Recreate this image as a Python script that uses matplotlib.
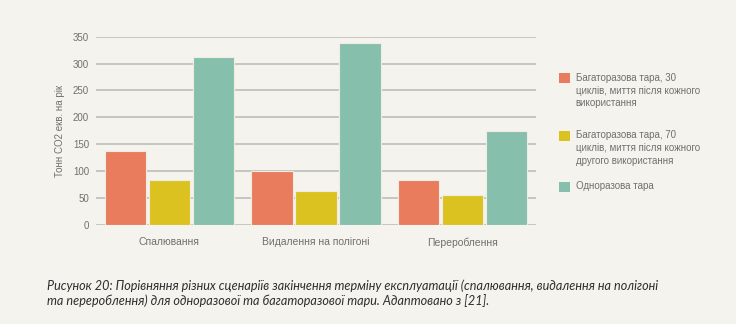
import matplotlib
matplotlib.use("Agg")
import matplotlib.pyplot as plt
import numpy as np
from matplotlib.patches import Rectangle

categories = ["Спалювання", "Видалення на полігоні", "Перероблення"]
series_names = [
    "Багаторазова тара, 30\nциклів, миття після кожного\nвикористання",
    "Багаторазова тара, 70\nциклів, миття після кожного\nдругого використання",
    "Одноразова тара",
]
reuse30 = [138, 100, 83]
reuse70 = [83, 63, 55]
single = [312, 338, 175]
yticks = [0, 50, 100, 150, 200, 250, 300, 350]
ylabel = "Тонн CO2 екв. на рік"
caption_lines = ["Рисунок 20: Порівняння різних сценаріїв закінчення терміну експлуатації (спалювання, видалення на полігоні",
                 "та перероблення) для одноразової та багаторазової тари. Адаптовано з [21]."]

colors = ["#e87c5c", "#dcc220", "#86c0ad"]
bg = "#f4f3ed"
tick_color = "#707070"

plt.rcParams['font.family'] = ['Liberation Sans', 'DejaVu Sans']

fig = plt.figure(figsize=(7.36, 3.24), dpi=100, facecolor=bg)
ax = fig.add_axes([96/736, 1-224.7/324, 440/736, 188/324])
ax.set_facecolor(bg)

x = np.arange(len(categories))
w = 0.28
step = 0.30
for i, vals in enumerate([reuse30, reuse70, single]):
    ax.bar(x + (i-1)*step, vals, width=w, color=colors[i], edgecolor="#f0ece4",
           linewidth=0.8, zorder=3)

ax.set_xlim(-0.5, 2.5)
ax.set_ylim(0, 350)
ax.set_yticks(yticks)
ax.set_xticks(x)
ax.set_xticklabels(categories)
ax.grid(axis='y', color="#c3c2be", linewidth=1.3, zorder=0)
for s in ax.spines.values():
    s.set_visible(False)
ax.tick_params(axis='both', length=0, labelsize=7, colors=tick_color)
ax.tick_params(axis='x', pad=9, labelsize=7.5)
ax.tick_params(axis='y', pad=5)
ax.set_ylabel(ylabel, fontsize=7, color=tick_color, labelpad=6)

# legend (manual)
tops = [73.3, 130.7, 181.7]
for name, c, t in zip(series_names, colors, tops):
    fig.patches.append(Rectangle((559.3/736, 1-(t+10)/324), 10.5/736, 10/324,
                                 transform=fig.transFigure, facecolor=c, edgecolor='none'))
    fig.text(575.7/736, 1-(t-0.5)/324, name, fontsize=7, color=tick_color,
             va='top', ha='left', linespacing=1.35)

# caption, fitted to reference width
cap_kw = dict(color="#2e2e2e", style='italic', family=['Lato', 'DejaVu Sans'],
              va='baseline', ha='left')
t1 = fig.text(47/736, 1-290/324, caption_lines[0], fontsize=8, **cap_kw)
fig.canvas.draw()
bb = t1.get_window_extent()
fs = 8 * 608.0 / bb.width
t1.set_fontsize(fs)
fig.text(47/736, 1-305/324, caption_lines[1], fontsize=fs, **cap_kw)

fig.savefig("out.png", dpi=100, facecolor=bg)
